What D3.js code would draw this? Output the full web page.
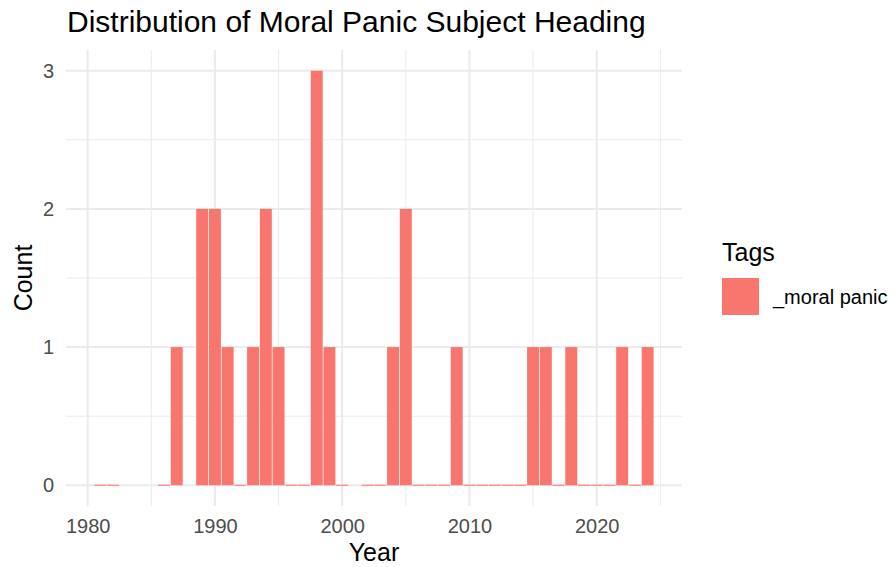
<!DOCTYPE html>
<html>
<head>
<meta charset="utf-8">
<script src="https://cdn.jsdelivr.net/npm/d3@7"></script>
<style>
  body { margin: 0; background: #fff; }
  text { font-family: "Liberation Sans", Arial, sans-serif; }
</style>
</head>
<body>
<div id="chart"></div>
<script>
// years present in the data and their counts
const years = [1981, 1982, 1986, 1987, 1989, 1990, 1991, 1992, 1993, 1994, 1995, 1996, 1997, 1998, 1999, 2000,
  2002, 2003, 2004, 2005, 2006, 2007, 2008, 2009, 2010, 2011, 2012, 2013, 2014, 2015, 2016, 2017, 2018,
  2019, 2020, 2021, 2022, 2023, 2024]
const counts = [0, 0, 0, 1, 2, 2, 1, 0, 1, 2, 1, 0, 0, 3, 1, 0,
  0, 0, 1, 2, 0, 0, 0, 1, 0, 0, 0, 0, 0, 1, 1, 0, 1,
  0, 0, 0, 1, 0, 1]
const xTicks = [1980, 1990, 2000, 2010, 2020]
const xMinor = [1985, 1995, 2005, 2015, 2025]
const yTicks = [0, 1, 2, 3]
const yMinor = [0.5, 1.5, 2.5]
const tagName = "_moral panic"

const data = years.map((y, i) => ({ year: y, count: counts[i] }))

const width = 896, height = 567
const panel = { left: 66, right: 682, top: 50, bottom: 506 }
const fill = '#F8766D'

const svg = d3.select('#chart')
  .append('svg')
  .attr('width', width)
  .attr('height', height)

// 5% expansion like ggplot
const xLo = d3.min(years) - 0.5, xHi = d3.max(years) + 0.5
const xPad = (xHi - xLo) * 0.05
const x = d3.scaleLinear()
  .domain([xLo - xPad, xHi + xPad])
  .range([panel.left, panel.right])

const yMax = d3.max(counts)
const y = d3.scaleLinear()
  .domain([-yMax * 0.05, yMax * 1.05])
  .range([panel.bottom, panel.top])

const grid = svg.append('g')

// minor grid
grid.selectAll('.xminor').data(xMinor).enter().append('line')
  .attr('x1', d => x(d)).attr('x2', d => x(d))
  .attr('y1', panel.top).attr('y2', panel.bottom)
  .attr('stroke', '#EBEBEB').attr('stroke-width', 1)
grid.selectAll('.yminor').data(yMinor).enter().append('line')
  .attr('y1', d => y(d)).attr('y2', d => y(d))
  .attr('x1', panel.left).attr('x2', panel.right)
  .attr('stroke', '#EBEBEB').attr('stroke-width', 1)

// major grid
grid.selectAll('.xmajor').data(xTicks).enter().append('line')
  .attr('x1', d => x(d)).attr('x2', d => x(d))
  .attr('y1', panel.top).attr('y2', panel.bottom)
  .attr('stroke', '#EBEBEB').attr('stroke-width', 2)
grid.selectAll('.ymajor').data(yTicks).enter().append('line')
  .attr('y1', d => y(d)).attr('y2', d => y(d))
  .attr('x1', panel.left).attr('x2', panel.right)
  .attr('stroke', '#EBEBEB').attr('stroke-width', 2)

// bars
const half = 0.47
svg.append('g').selectAll('rect')
  .data(data)
  .enter()
  .append('rect')
  .attr('x', d => x(d.year - half))
  .attr('width', d => x(d.year + half) - x(d.year - half))
  .attr('y', d => d.count > 0 ? y(d.count) : y(0) - 0.6)
  .attr('height', d => d.count > 0 ? y(0) - y(d.count) : 1.2)
  .attr('fill', fill)
  .attr('fill-opacity', d => d.count > 0 ? 1 : 0.85)

// axes (text only, ggplot minimal)
const xAxis = svg.append('g')
  .attr('transform', `translate(0, ${panel.bottom})`)
  .call(d3.axisBottom(x).tickValues(xTicks).tickFormat(d3.format('d')).tickSize(0).tickPadding(13))
xAxis.select('.domain').remove()
xAxis.selectAll('text')
  .attr('fill', '#4D4D4D')
  .style('font-size', '20px')

const yAxis = svg.append('g')
  .attr('transform', `translate(${panel.left}, 0)`)
  .call(d3.axisLeft(y).tickValues(yTicks).tickFormat(d3.format('d')).tickSize(0).tickPadding(12))
yAxis.select('.domain').remove()
yAxis.selectAll('text')
  .attr('fill', '#4D4D4D')
  .style('font-size', '20px')

// titles
svg.append('text')
  .attr('x', 67)
  .attr('y', 32)
  .style('font-size', '30px')
  .attr('fill', '#000')
  .text('Distribution of Moral Panic Subject Heading')

svg.append('text')
  .attr('x', (panel.left + panel.right) / 2)
  .attr('y', 561)
  .attr('text-anchor', 'middle')
  .style('font-size', '25px')
  .text('Year')

svg.append('text')
  .attr('transform', `translate(32, ${(panel.top + panel.bottom) / 2}) rotate(-90)`)
  .attr('text-anchor', 'middle')
  .style('font-size', '25px')
  .text('Count')

// legend
const legend = svg.append('g').attr('transform', 'translate(722, 0)')
legend.append('text')
  .attr('x', 0)
  .attr('y', 261)
  .style('font-size', '25px')
  .text('Tags')
legend.append('rect')
  .attr('x', 0)
  .attr('y', 278)
  .attr('width', 37)
  .attr('height', 37)
  .attr('fill', fill)
legend.append('text')
  .attr('x', 51)
  .attr('y', 297)
  .attr('dy', '0.35em')
  .style('font-size', '20px')
  .text(tagName)
</script>
</body>
</html>
